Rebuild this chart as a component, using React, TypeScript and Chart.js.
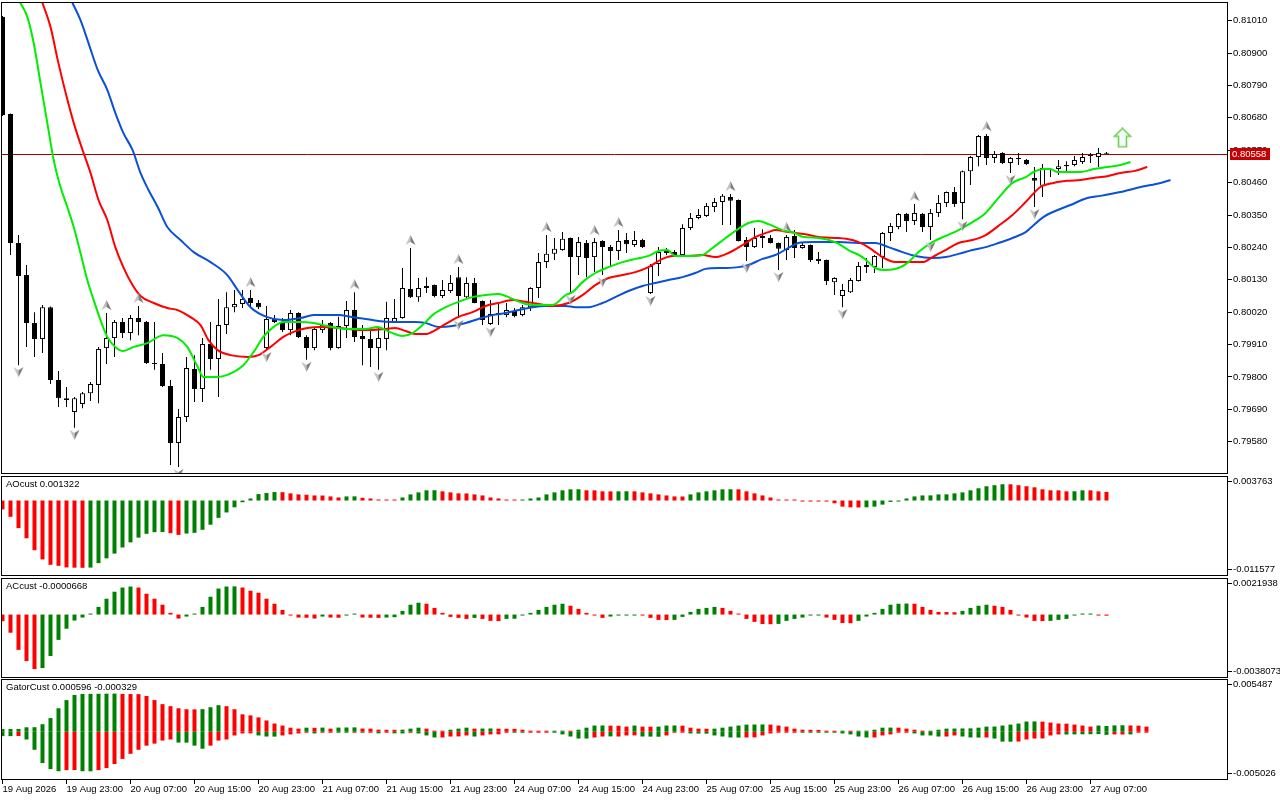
import React, { useEffect, useRef } from 'react';
import { Chart, registerables } from 'chart.js';

Chart.register(...registerables);

const FONT_FAMILY = '"Liberation Sans", Arial, sans-serif';
const GREEN = '#008000';
const RED = '#ff0000';
const Y_AXIS_WIDTH = 52;
const X_MIN = -0.1875;
const X_MAX = 153.19;

// ---------- time axis ----------
const xTickBars = [0, 8, 16, 24, 32, 40, 48, 56, 64, 72, 80, 88, 96, 104, 112, 120, 128, 136];
const xTickLabels = [
  '19 Aug 2026', '19 Aug 23:00', '20 Aug 07:00', '20 Aug 15:00', '20 Aug 23:00', '21 Aug 07:00',
  '21 Aug 15:00', '21 Aug 23:00', '24 Aug 07:00', '24 Aug 15:00', '24 Aug 23:00', '25 Aug 07:00',
  '25 Aug 15:00', '25 Aug 23:00', '26 Aug 07:00', '26 Aug 15:00', '26 Aug 23:00', '27 Aug 07:00',
];

// ---------- price pane ----------
const priceTicks = [0.8101, 0.809, 0.8079, 0.8068, 0.8057, 0.8046, 0.8035, 0.8024, 0.8013, 0.8002, 0.7991, 0.798, 0.7969, 0.7958];
const PRICE_MIN = 0.794703;
const PRICE_MAX = 0.810735;
const lastPrice = 0.80558;
const lastPriceLabel = '0.80558';

const candleOpen = [
  0.81023, 0.80693, 0.80255, 0.80146, 0.79983, 0.79929, 0.80037, 0.7979, 0.79728, 0.79681,
  0.79708, 0.79745, 0.79773, 0.79898, 0.79932, 0.79987, 0.79949, 0.8, 0.79987, 0.79847,
  0.79844, 0.79769, 0.79576, 0.79664, 0.79827, 0.79759, 0.79912, 0.79861, 0.79976, 0.80037,
  0.80048, 0.80068, 0.80051, 0.79898, 0.79997, 0.79987, 0.79959, 0.80017, 0.79936, 0.79898,
  0.79959, 0.79983, 0.79898, 0.79973, 0.80027, 0.79939, 0.79929, 0.79898, 0.79929, 0.79987,
  0.8, 0.80099, 0.80071, 0.80102, 0.80112, 0.80075, 0.80092, 0.80139, 0.80071, 0.80119,
  0.80058, 0.7998, 0.80017, 0.8001, 0.80024, 0.8001, 0.80037, 0.80102, 0.8019, 0.80218,
  0.80231, 0.80272, 0.80207, 0.80255, 0.80207, 0.80262, 0.80241, 0.80228, 0.80265, 0.80248,
  0.80265, 0.80085, 0.80184, 0.80231, 0.80224, 0.80214, 0.80306, 0.8034, 0.80347, 0.80377,
  0.80394, 0.80411, 0.80401, 0.80265, 0.80241, 0.80279, 0.80272, 0.80255, 0.80231, 0.80279,
  0.80238, 0.80248, 0.80201, 0.80197, 0.80122, 0.80075, 0.80088, 0.80126, 0.8018, 0.80173,
  0.80207, 0.80289, 0.80309, 0.80353, 0.8033, 0.80353, 0.80309, 0.80357, 0.80391, 0.80428,
  0.80391, 0.80499, 0.80547, 0.80618, 0.80544, 0.80561, 0.80527, 0.8054, 0.80537, 0.80476,
  0.80449, 0.80506, 0.80506, 0.8052, 0.8052, 0.8053, 0.8055, 0.80547, 0.8056,
];
const candleHigh = [
  0.81026, 0.80695, 0.80282, 0.8018, 0.8002, 0.80044, 0.80039, 0.7982, 0.79766, 0.79732,
  0.79749, 0.79783, 0.79902, 0.80017, 0.79993, 0.8, 0.8001, 0.80041, 0.7999, 0.79987,
  0.79881, 0.7979, 0.79691, 0.79868, 0.79874, 0.79932, 0.79987, 0.80065, 0.80088, 0.80095,
  0.80095, 0.80095, 0.80061, 0.80041, 0.8001, 0.8, 0.80027, 0.8002, 0.79942, 0.79966,
  0.79993, 0.79987, 0.80004, 0.80058, 0.80088, 0.79976, 0.79959, 0.7997, 0.80055, 0.80065,
  0.8017, 0.80238, 0.80136, 0.80139, 0.80114, 0.80129, 0.80146, 0.80173, 0.80139, 0.80136,
  0.8006, 0.80061, 0.80051, 0.80051, 0.80034, 0.80044, 0.80105, 0.80221, 0.80282, 0.80272,
  0.80292, 0.80274, 0.80275, 0.80265, 0.80272, 0.80264, 0.80248, 0.80299, 0.80289, 0.80296,
  0.80269, 0.80184, 0.80241, 0.80238, 0.80231, 0.80319, 0.80357, 0.8037, 0.80391, 0.80408,
  0.80421, 0.80421, 0.80403, 0.80275, 0.80306, 0.80302, 0.80282, 0.80257, 0.80282, 0.80299,
  0.80255, 0.8025, 0.80224, 0.80199, 0.80139, 0.80116, 0.80136, 0.8019, 0.80204, 0.80214,
  0.80292, 0.80323, 0.80357, 0.80357, 0.80387, 0.80357, 0.8037, 0.80418, 0.8043, 0.80445,
  0.80501, 0.8055, 0.80622, 0.80625, 0.80567, 0.80563, 0.80547, 0.80561, 0.8054, 0.80513,
  0.80523, 0.80508, 0.80537, 0.80533, 0.8055, 0.80561, 0.80561, 0.80578, 0.80564,
];
const candleLow = [
  0.80686, 0.80214, 0.7984, 0.79902, 0.79868, 0.79881, 0.79776, 0.79698, 0.79698, 0.79627,
  0.79694, 0.79718, 0.79711, 0.79844, 0.79868, 0.79932, 0.79925, 0.79942, 0.79844, 0.79824,
  0.79766, 0.79501, 0.79494, 0.79647, 0.79715, 0.79715, 0.79824, 0.79732, 0.79946, 0.8002,
  0.80034, 0.80037, 0.80031, 0.79891, 0.79983, 0.79953, 0.79942, 0.79932, 0.79858, 0.79891,
  0.79949, 0.79891, 0.79896, 0.79932, 0.79919, 0.7984, 0.79834, 0.79824, 0.79891, 0.79985,
  0.79998, 0.80068, 0.80055, 0.80085, 0.80071, 0.80068, 0.80085, 0.8, 0.80068, 0.8005,
  0.79976, 0.79976, 0.79976, 0.80003, 0.80003, 0.80006, 0.80024, 0.80068, 0.8017, 0.80197,
  0.80229, 0.80085, 0.80146, 0.80139, 0.80156, 0.80146, 0.80173, 0.80197, 0.80221, 0.80241,
  0.80238, 0.80082, 0.80143, 0.80214, 0.80211, 0.80211, 0.80299, 0.80336, 0.80343, 0.8036,
  0.80316, 0.80316, 0.8026, 0.80194, 0.80238, 0.80238, 0.80253, 0.80163, 0.80197, 0.80204,
  0.80235, 0.8019, 0.80184, 0.80112, 0.80078, 0.80037, 0.80085, 0.80124, 0.80153, 0.80153,
  0.8017, 0.80262, 0.80302, 0.80292, 0.80316, 0.80292, 0.80265, 0.80343, 0.80377, 0.80377,
  0.80336, 0.80452, 0.80516, 0.8052, 0.80527, 0.80523, 0.80493, 0.8052, 0.8052, 0.80377,
  0.80411, 0.80479, 0.80486, 0.80496, 0.80516, 0.80523, 0.80527, 0.80513, 0.80557,
];
const candleClose = [
  0.8069, 0.80255, 0.80143, 0.79983, 0.79929, 0.80037, 0.7979, 0.79728, 0.79722, 0.79728,
  0.79745, 0.79776, 0.79895, 0.79932, 0.79987, 0.79949, 0.8, 0.79987, 0.79847, 0.79844,
  0.79769, 0.79576, 0.79664, 0.7983, 0.79759, 0.79912, 0.79861, 0.79976, 0.80037, 0.80048,
  0.80065, 0.80051, 0.80037, 0.79997, 0.79987, 0.79959, 0.80017, 0.79936, 0.79898, 0.79963,
  0.79976, 0.79898, 0.79973, 0.80027, 0.79936, 0.79929, 0.79898, 0.79932, 0.8, 0.8,
  0.80102, 0.80071, 0.80102, 0.80109, 0.80075, 0.80095, 0.80119, 0.80075, 0.80119, 0.80051,
  0.79993, 0.80014, 0.8001, 0.80027, 0.80007, 0.80037, 0.80102, 0.8019, 0.80218, 0.80235,
  0.80269, 0.80207, 0.80258, 0.80204, 0.80258, 0.80241, 0.80228, 0.80262, 0.80251, 0.80265,
  0.80241, 0.80177, 0.80224, 0.80221, 0.80214, 0.80306, 0.8034, 0.8035, 0.80381, 0.80394,
  0.80415, 0.80398, 0.80262, 0.80241, 0.80272, 0.80272, 0.80255, 0.80235, 0.80275, 0.80238,
  0.80248, 0.80197, 0.80194, 0.80126, 0.80136, 0.80095, 0.80129, 0.80177, 0.80173, 0.80211,
  0.80289, 0.80313, 0.80353, 0.8033, 0.80357, 0.80309, 0.80357, 0.80391, 0.80428, 0.80387,
  0.80499, 0.80547, 0.80618, 0.80544, 0.80557, 0.80527, 0.80544, 0.80541, 0.80523, 0.80466,
  0.8051, 0.80503, 0.80516, 0.80516, 0.80537, 0.80547, 0.80551, 0.80561, 0.80558,
];

// Alligator lines: [bar position, price]
const lipsPts = [
  [1.5, 0.81111], [2.25, 0.8107], [3.1, 0.81023], [3.9, 0.80934], [4.75, 0.80798], [5.6, 0.80663], [6.4, 0.80537],
  [7.25, 0.80445], [8.1, 0.80377], [8.9, 0.80309], [9.75, 0.80221], [10.6, 0.80129], [11.4, 0.80061], [12.25, 0.79993],
  [13.1, 0.79936], [14.1, 0.79902], [15.1, 0.79888], [16.4, 0.79902], [18.1, 0.79915], [20.1, 0.79942], [21.9, 0.79932],
  [23.1, 0.79902], [24.4, 0.79834], [25.1, 0.798], [26.9, 0.798], [28.1, 0.79807], [30.1, 0.7984], [31.4, 0.79885],
  [32.6, 0.79936], [33.9, 0.7997], [35.1, 0.79987], [37.25, 0.79987], [38.9, 0.79983], [40.1, 0.79976], [42.9, 0.79963],
  [45.4, 0.79963], [46.9, 0.7997], [47.9, 0.79959], [48.75, 0.79949], [50, 0.79939], [51.25, 0.79949], [52.5, 0.79976],
  [53.75, 0.8001], [55.4, 0.80037], [57, 0.80055], [58.75, 0.80071], [60.4, 0.80078], [62, 0.80082], [63.75, 0.80065],
  [65.4, 0.80048], [67, 0.80044], [68.75, 0.80044], [70.4, 0.80078], [71.25, 0.80088], [72.5, 0.80122], [74.1, 0.80153],
  [75.75, 0.80173], [77.5, 0.8019], [79.1, 0.80201], [80.75, 0.80211], [82, 0.80228], [83.1, 0.80231], [84.1, 0.80211],
  [85.75, 0.80211], [87.5, 0.80214], [88.75, 0.80238], [90.4, 0.80272], [92, 0.80303], [93.25, 0.80323], [94.5, 0.8033],
  [95.75, 0.80319], [97.5, 0.80299], [99.1, 0.80288], [100, 0.80276], [102, 0.80272], [104.1, 0.80258], [105.75, 0.80231],
  [107.5, 0.80207], [109.1, 0.8017], [110.4, 0.80163], [112, 0.8017], [113.25, 0.8019], [114.5, 0.80224], [116.25, 0.80258],
  [117.9, 0.80279], [119.5, 0.80299], [121.25, 0.80326], [122.9, 0.80357], [124.5, 0.80408], [126.25, 0.80459], [127.9, 0.80479],
  [128.9, 0.80496], [130.1, 0.80506], [131, 0.80506], [131.9, 0.80496], [133.1, 0.80496], [134.75, 0.80496], [136.4, 0.80506],
  [138.1, 0.80513], [139.75, 0.8052], [141, 0.8053],
];
const teethPts = [
  [4.5, 0.8111], [5, 0.8107], [6, 0.80989], [6.9, 0.80877], [7.9, 0.80764], [8.9, 0.80663], [10, 0.80571], [11, 0.80493],
  [12, 0.80401], [13.1, 0.80333], [14.1, 0.80241], [15.1, 0.80173], [16.25, 0.80112], [17.25, 0.80075], [18.9, 0.80051],
  [20.6, 0.80034], [21.9, 0.80027], [23.5, 0.80003], [24.75, 0.79976], [25.75, 0.79925], [26.9, 0.79891], [28.5, 0.79874],
  [30.6, 0.79868], [32, 0.79874], [33.5, 0.79902], [35.1, 0.79936], [36.4, 0.79953], [38.1, 0.79966], [39.75, 0.7997],
  [42, 0.79966], [45.4, 0.79959], [47.9, 0.79963], [49.1, 0.79966], [50.4, 0.79956], [51.6, 0.79946], [52.9, 0.79946],
  [54.1, 0.79959], [55.4, 0.7998], [57, 0.80004], [58.75, 0.8002], [60.4, 0.80041], [62, 0.80051], [63.75, 0.80061],
  [65.4, 0.80055], [67, 0.80048], [68.75, 0.80041], [70.75, 0.80051], [72.5, 0.80078], [74.1, 0.80112], [75.75, 0.80136],
  [77.5, 0.80146], [79.1, 0.80156], [80.75, 0.80173], [82.5, 0.80201], [83.75, 0.80211], [85.75, 0.80211], [87.5, 0.80214],
  [89.1, 0.80207], [90.75, 0.80221], [92.5, 0.80248], [94.1, 0.80275], [95.75, 0.80292], [96.6, 0.80299], [98.25, 0.80292],
  [100.4, 0.80285], [102, 0.80275], [104.5, 0.80272], [106.25, 0.80265], [107.5, 0.80252], [108.75, 0.80231], [110, 0.80207],
  [111.6, 0.8019], [113.25, 0.8019], [115, 0.8019], [116.25, 0.80207], [117.9, 0.80231], [119.5, 0.80255], [121.25, 0.80265],
  [122.9, 0.80282], [124.5, 0.80313], [126.25, 0.8035], [127.9, 0.80394], [129.75, 0.80445], [131.4, 0.80459], [133.1, 0.80466],
  [134.75, 0.80469], [136.4, 0.80476], [138.1, 0.80482], [139.75, 0.80493], [141.4, 0.80499], [143.1, 0.80513],
];
const jawPts = [
  [8, 0.81113], [8.75, 0.8107], [9.75, 0.81012], [10.75, 0.80934], [11.9, 0.80843], [13.1, 0.80775], [14.1, 0.80697],
  [15.1, 0.80629], [16.25, 0.80571], [17.25, 0.80493], [18.25, 0.80435], [19.4, 0.80377], [20.6, 0.80309], [22.25, 0.80265],
  [23.9, 0.80224], [26, 0.8019], [28.1, 0.80146], [29.4, 0.80095], [31, 0.80037], [33.1, 0.80003], [35.1, 0.79993],
  [37.25, 0.8], [38.9, 0.8001], [42, 0.8001], [43.75, 0.80003], [45.4, 0.79997], [47, 0.7999], [48.75, 0.79987],
  [51.6, 0.79987], [52.9, 0.79983], [54.5, 0.7997], [56.25, 0.79973], [57.9, 0.79983], [59.5, 0.79997], [61.25, 0.8001],
  [62.9, 0.80017], [64.5, 0.80027], [66.25, 0.80037], [67.9, 0.80041], [70.4, 0.80041], [71.6, 0.80037], [73.25, 0.80037],
  [75, 0.80051], [76.6, 0.80071], [78.25, 0.80092], [80, 0.80109], [81.6, 0.80119], [83.25, 0.80129], [85, 0.80139],
  [86.6, 0.80153], [87.9, 0.80167], [90, 0.8017], [92, 0.80173], [93.25, 0.8018], [95, 0.80201], [96.6, 0.80214],
  [98.25, 0.80238], [99.5, 0.80255], [101.25, 0.80258], [104.5, 0.80258], [107, 0.80255], [109.1, 0.80255], [110.75, 0.80241],
  [112.5, 0.80224], [114.1, 0.80211], [116.25, 0.80204], [117.9, 0.80207], [119.5, 0.80218], [121.25, 0.80231], [122.9, 0.80241],
  [124.5, 0.80255], [126.25, 0.80272], [127.9, 0.80292], [128.5, 0.80306], [130.1, 0.80343], [131.9, 0.80367], [133.5, 0.80384],
  [135.6, 0.80408], [137.25, 0.80415], [139.75, 0.80428], [142.25, 0.80445], [144.75, 0.80459], [146, 0.80469],
];

const upFractalBars = [13, 17, 31, 44, 51, 57, 68, 74, 77, 91, 98, 114, 123];
const downFractalBars = [2, 9, 22, 33, 38, 47, 57, 61, 71, 75, 81, 93, 97, 105, 116, 120, 126, 129];
const signalBar = 140;
const signalPrice = 0.80612;

// ---------- AO pane ----------
const aoTitle = 'AOcust 0.001322';
const aoScale = [-0.011577, 0.003763];
const aoScaleLabels = ['0.003763', '-0.011577'];
const aoValues = [
  -0.00136, -0.0025, -0.00423, -0.00579, -0.00762, -0.00903, -0.00986, -0.01002, -0.01026, -0.0103,
  -0.01032, -0.01029, -0.0096, -0.00887, -0.00814, -0.0072, -0.00642, -0.00569, -0.00511, -0.00486,
  -0.00484, -0.00501, -0.00527, -0.00506, -0.00496, -0.00449, -0.00371, -0.00266, -0.00183, -0.00104,
  -0.00026, 0.00031, 0.00099, 0.00115, 0.0013, 0.00128, 0.0011, 0.00094, 0.00089, 0.00078,
  0.00077, 0.00063, 0.00047, 0.00063, 0.00064, 0.00042, 0.00031, 0.00016, 0.0001, 0.00008,
  0.00047, 0.00094, 0.00125, 0.00157, 0.00158, 0.00141, 0.00125, 0.0011, 0.00109, 0.00094,
  0.00078, 0.00047, 0.00031, 0.0001, 0.00008, 0.00009, 0.00031, 0.00047, 0.00094, 0.00125,
  0.00157, 0.00172, 0.00173, 0.00157, 0.00156, 0.00141, 0.0014, 0.00141, 0.00142, 0.00141,
  0.00125, 0.0011, 0.00094, 0.00078, 0.00063, 0.00062, 0.00094, 0.00125, 0.00141, 0.00157,
  0.00172, 0.00173, 0.00172, 0.00141, 0.0011, 0.00078, 0.00047, 0.0001, 0.00009, 0.00008,
  -0.00003, -0.00005, -0.00008, -0.0001, -0.00042, -0.00094, -0.00104, -0.00106, -0.00104, -0.00094,
  -0.00063, -0.00021, -0.0001, 0.00031, 0.00063, 0.00078, 0.00079, 0.00094, 0.00095, 0.0011,
  0.00125, 0.00157, 0.00188, 0.00219, 0.00235, 0.0025, 0.00249, 0.00235, 0.00219, 0.00203,
  0.00172, 0.00157, 0.00156, 0.00141, 0.00142, 0.00157, 0.00156, 0.00141, 0.001322,
];
const aoColors = 'RRRRRRRRRRR GGGGGGGGGG RR GGGGGGGGGGGG RRRRRRRR GG RRRRR GGGGG RRRRRRRRRR GGGGGGGG RRRR GG RRRRRRR GGGGGG RRRRRRRRRRRRRRRR GGGGGGGGGGGGGGGGGG RRRRRRRR GG RRR';

// ---------- AC pane ----------
const acTitle = 'ACcust -0.0000668';
const acScale = [-0.0038073, 0.0021938];
const acScaleLabels = ['0.0021938', '-0.0038073'];
const acValues = [
  -0.0004, -0.00109, -0.00212, -0.00279, -0.00327, -0.00321, -0.00249, -0.00152, -0.00085, -0.00036,
  -0.00018, 0.00006, 0.00046, 0.00095, 0.00137, 0.00162, 0.00168, 0.00162, 0.00125, 0.00095,
  0.00059, 0.0001, -0.00024, -0.00012, 0.00004, 0.00046, 0.00107, 0.00156, 0.00168, 0.00169,
  0.00162, 0.00143, 0.00131, 0.00095, 0.00065, 0.00028, -0.00006, -0.00018, -0.00019, -0.00024,
  -0.00012, -0.00018, -0.00019, -0.00006, 0.00004, -0.00018, -0.00019, -0.0002, -0.00018, -0.00016,
  0.00022, 0.00059, 0.00071, 0.00065, 0.0004, 0.0001, -0.00014, -0.0002, -0.00026, -0.0002,
  -0.00026, -0.00038, -0.00039, -0.00026, -0.00025, -0.00006, 0.0001, 0.00028, 0.00046, 0.00059,
  0.00065, 0.00053, 0.00034, 0.0001, -0.00006, -0.0002, -0.00012, -0.00006, -0.00004, -0.00003,
  -0.00006, -0.0002, -0.00032, -0.00033, -0.00032, -0.00014, 0.00016, 0.00034, 0.0004, 0.00046,
  0.0004, 0.00022, 0.00004, -0.00026, -0.00044, -0.00057, -0.00058, -0.00056, -0.00038, -0.00026,
  -0.00018, -0.00006, -0.00005, -0.00018, -0.00032, -0.00051, -0.00052, -0.00038, -0.00012, 0.0001,
  0.00034, 0.00059, 0.00065, 0.00066, 0.00065, 0.00046, 0.00028, 0.00016, 0.00015, 0.00014,
  0.00022, 0.0004, 0.00053, 0.00059, 0.00053, 0.00046, 0.00028, -0.00002, -0.00018, -0.00038,
  -0.00039, -0.00038, -0.00032, -0.00026, -0.00002, 0.00002, 0.00003, -0.00002, -0.0000668,
];
const acColors = 'RRRRR GGGGGGGGGGGG RRRRRR GGGGGGG RRRRRRRRRR G RR GG RRR GGGGG RRRRRR G RRR GGGGGGGG RRRRR GGGG RRRR GGGGGG RRRRRRR GGGGGG RRRR GGGGGGG RRRRRR GGGG RRRRRRR GGGGGG RR';

// ---------- Gator pane ----------
const gatorTitle = 'GatorCust 0.000596 -0.000329';
const gatorScale = [-0.005026, 0.005487];
const gatorScaleLabels = ['0.005487', '-0.005026'];
const gatorUpper = [
  0.00028, 0.00028, 0.00029, 0.00046, 0.00047, 0.00078, 0.00142, 0.00244, 0.00329, 0.00382,
  0.00393, 0.00394, 0.00395, 0.00396, 0.00397, 0.00393, 0.00392, 0.00391, 0.00372, 0.00329,
  0.00287, 0.00266, 0.00244, 0.00234, 0.00233, 0.00235, 0.00255, 0.00276, 0.00266, 0.00234,
  0.00181, 0.0017, 0.00149, 0.00117, 0.00085, 0.00064, 0.00042, 0.00032, 0.00042, 0.00041,
  0.00043, 0.00032, 0.00043, 0.00044, 0.00045, 0.00033, 0.00032, 0.00021, 0.0002, 0.0002,
  0.00021, 0.00032, 0.00042, 0.00032, 0.00011, 0.00004, 0.00021, 0.00032, 0.00042, 0.00032,
  0.00033, 0.00034, 0.00032, 0.00031, 0.0003, 0.00021, 0.00011, 0.00004, 0.00003, 0.00003,
  0.00011, 0.00006, 0.00021, 0.00042, 0.00064, 0.00065, 0.00063, 0.00062, 0.00053, 0.00064,
  0.00053, 0.00052, 0.00053, 0.00064, 0.00065, 0.00063, 0.00042, 0.00032, 0.00031, 0.00032,
  0.00042, 0.00053, 0.00064, 0.00074, 0.00075, 0.00076, 0.00074, 0.00064, 0.00053, 0.00032,
  0.00021, 0.0002, 0.00019, 0.00011, 0.0001, 0.00011, 0.0001, 0.00003, 0.00011, 0.00021,
  0.00042, 0.00043, 0.00042, 0.00032, 0.00021, 0.00011, 0.00003, 0.00021, 0.00032, 0.00033,
  0.00034, 0.00035, 0.00042, 0.00053, 0.00054, 0.00064, 0.00074, 0.00085, 0.00106, 0.00107,
  0.00105, 0.00095, 0.00085, 0.00084, 0.00074, 0.00064, 0.00053, 0.00064, 0.000596, 0.00066,
  0.00067, 0.00065, 0.00063, 0.00053,
];
const gatorLower = [
  -0.00046, -0.00046, -0.00045, -0.00081, -0.00188, -0.00326, -0.00389, -0.00411, -0.004, -0.00399,
  -0.00411, -0.00412, -0.004, -0.00379, -0.00336, -0.00283, -0.0023, -0.00188, -0.00145, -0.00124,
  -0.00092, -0.00081, -0.00113, -0.00114, -0.00145, -0.00177, -0.00145, -0.00092, -0.00081, -0.00039,
  -0.00018, -0.00017, -0.00039, -0.0005, -0.00051, -0.00039, -0.00028, -0.00018, -0.00007, -0.00018,
  -0.00007, -0.00008, -0.00007, -0.0001, -0.00007, -0.0001, -0.00007, -0.00017, -0.00007, -0.00017,
  -0.00018, -0.00007, -0.00018, -0.00039, -0.0006, -0.0006, -0.0005, -0.00049, -0.00039, -0.0005,
  -0.00039, -0.00028, -0.00027, -0.00007, -0.00007, -0.00007, -0.00007, -0.00003, -0.00003, -0.00003,
  -0.00028, -0.0005, -0.00071, -0.00071, -0.0006, -0.0005, -0.00049, -0.0005, -0.00039, -0.00038,
  -0.0005, -0.00051, -0.00052, -0.00039, -0.00007, -0.00007, -0.00018, -0.00019, -0.0002, -0.00039,
  -0.0005, -0.0006, -0.00061, -0.0006, -0.00059, -0.00039, -0.00018, -0.00007, -0.00007, -0.00007,
  -0.00007, -0.00007, -0.00007, -0.00007, -0.00007, -0.00018, -0.00028, -0.0005, -0.0006, -0.0006,
  -0.00039, -0.00028, -0.0001, -0.00007, -0.00018, -0.00039, -0.00039, -0.0005, -0.0005, -0.00039,
  -0.0005, -0.0006, -0.00061, -0.0006, -0.00071, -0.00103, -0.00104, -0.00102, -0.00081, -0.00071,
  -0.0007, -0.00039, -0.00028, -0.00029, -0.00028, -0.00027, -0.00026, -0.00025, -0.000329, -0.00028,
  -0.00029, -0.00028, -0.00002, -0.00002,
];
const gatorUpperColors = 'GGGGGGGGGGGGGGG RRRRRRRRRR GGG RRRRRRRRRR G R G R GGG RRRRR GGG RRR GGG R GG RRRRRRR GG R GGGG RRR G RR GGG RRRR GGGGGGG RRRRRRRRR G R GGGGG RRRR GGGGGGGGGGGGGG RRRRRRR GGGG RRR';
const gatorLowerColors = 'GG R GGGGG RR GG RRRRRRRRRR GGGG RRRRRR GGG RRRR G RR GG R G R G R GG R GGG RRRR G RRRR GG RRR GGGGG RR G RRR GGG RRR GGGGGGG RRRRRRR GGGGGGGGG RRRRR GGGG RR GGG R GGG RRRRRR GGGGGG RR G RR';

// ---------- helpers ----------
const tickFont = { family: FONT_FAMILY, size: 9.5 };
const colorList = (s: string) => s.replace(/\s/g, '').split('').map((c) => (c === 'G' ? GREEN : RED));

function fractalIcon(up: boolean): HTMLCanvasElement {
  const c = document.createElement('canvas');
  c.width = 11;
  c.height = 34;
  const g = c.getContext('2d') as CanvasRenderingContext2D;
  const s = up ? 1 : -1;
  const cy = up ? 17 - 8 : 17 + 7;
  g.beginPath();
  g.moveTo(5.5, cy - 5 * s);
  g.lineTo(0.5, cy + 5 * s);
  g.lineTo(5.5, cy + 2 * s);
  g.closePath();
  g.fillStyle = '#c4c4c4';
  g.fill();
  g.beginPath();
  g.moveTo(5.5, cy - 5 * s);
  g.lineTo(10.5, cy + 5 * s);
  g.lineTo(5.5, cy + 2 * s);
  g.closePath();
  g.fillStyle = '#7c7c7c';
  g.fill();
  return c;
}

function signalIcon(): HTMLCanvasElement {
  const c = document.createElement('canvas');
  c.width = 19;
  c.height = 21;
  const g = c.getContext('2d') as CanvasRenderingContext2D;
  g.beginPath();
  g.moveTo(9.5, 1);
  g.lineTo(17.5, 9);
  g.lineTo(13.5, 9);
  g.lineTo(13.5, 19.5);
  g.lineTo(5.5, 19.5);
  g.lineTo(5.5, 9);
  g.lineTo(1.5, 9);
  g.closePath();
  g.fillStyle = '#f3fbff';
  g.fill();
  g.strokeStyle = '#72d24a';
  g.lineWidth = 1.6;
  g.stroke();
  return c;
}

const framePlugin = {
  id: 'paneFrame',
  afterDraw(chart: any) {
    const { ctx, chartArea: a } = chart;
    ctx.save();
    ctx.strokeStyle = '#000';
    ctx.lineWidth = 1;
    ctx.strokeRect(a.left + 0.5, a.top + 0.5, a.right - a.left - 1, a.bottom - a.top - 1);
    ctx.restore();
  },
};

const titlePlugin = {
  id: 'paneTitle',
  afterDraw(chart: any, _args: any, opts: any) {
    if (!opts || !opts.text) return;
    const { ctx, chartArea: a } = chart;
    ctx.save();
    ctx.font = `9.5px ${FONT_FAMILY}`;
    ctx.fillStyle = '#000';
    ctx.textBaseline = 'middle';
    ctx.fillText(opts.text, a.left + 5, a.top + 8.5);
    ctx.restore();
  },
};

// current-price line (under the candles) and its tag on the price axis
const priceTagPlugin = {
  id: 'priceTag',
  beforeDatasetsDraw(chart: any, _args: any, opts: any) {
    if (!opts || opts.value === undefined) return;
    const { ctx, chartArea: a } = chart;
    const y = Math.round(chart.scales.y.getPixelForValue(opts.value)) + 0.5;
    ctx.save();
    ctx.strokeStyle = '#a00000';
    ctx.lineWidth = 1;
    ctx.beginPath();
    ctx.moveTo(a.left, y);
    ctx.lineTo(a.right, y);
    ctx.stroke();
    ctx.restore();
  },
  afterDraw(chart: any, _args: any, opts: any) {
    if (!opts || opts.value === undefined) return;
    const { ctx, chartArea: a } = chart;
    const y = Math.round(chart.scales.y.getPixelForValue(opts.value));
    ctx.save();
    ctx.fillStyle = '#c40000';
    ctx.fillRect(a.right + 2, y - 6, 40, 12);
    ctx.fillStyle = '#fff';
    ctx.font = `9.5px ${FONT_FAMILY}`;
    ctx.textBaseline = 'middle';
    ctx.fillText(opts.label, a.right + 4, y + 0.5);
    ctx.restore();
  },
};

const clearPadding = (s: any) => {
  s.paddingTop = 0;
  s.paddingBottom = 0;
  s.paddingLeft = 0;
  s.paddingRight = 0;
};

function rightAxis(min: number, max: number, buildTicks: () => { value: number }[], label: (v: number, i: number) => string) {
  return {
    type: 'linear',
    position: 'right',
    min,
    max,
    afterFit: (s: any) => {
      s.width = Y_AXIS_WIDTH;
      clearPadding(s);
    },
    afterBuildTicks: (s: any) => {
      s.ticks = buildTicks();
    },
    ticks: {
      callback: (v: any, i: number) => label(Number(v), i),
      font: tickFont,
      color: '#000',
      padding: 1,
      autoSkip: false,
    },
    grid: { drawOnChartArea: false, drawTicks: true, tickLength: 4, color: '#000', lineWidth: 1, offset: false },
    border: { display: false },
  };
}

function edgeTicks(min: number, max: number) {
  return () => [{ value: max - (max - min) * 0.055 }, { value: min + (max - min) * 0.065 }];
}

const hiddenX = { type: 'linear', min: X_MIN, max: X_MAX, display: false, offset: false, grid: { offset: false } };

function baseOptions(top: number, bottom: number, scales: any, plugins: any) {
  return {
    responsive: false,
    animation: false,
    events: [],
    layout: { padding: { left: 1, right: 0, top, bottom }, autoPadding: false },
    scales,
    plugins: { legend: { display: false }, tooltip: { enabled: false }, title: { display: false }, ...plugins },
  };
}

function histDataset(values: number[], colors: string, order = 0) {
  return {
    type: 'bar',
    data: values.map((v, i) => ({ x: i, y: v })),
    backgroundColor: colorList(colors),
    barThickness: 4,
    grouped: false,
    minBarLength: 1,
    borderWidth: 0,
    inflateAmount: 0,
    order,
  };
}

export default function App() {
  const mainRef = useRef<HTMLCanvasElement>(null);
  const aoRef = useRef<HTMLCanvasElement>(null);
  const acRef = useRef<HTMLCanvasElement>(null);
  const gatorRef = useRef<HTMLCanvasElement>(null);

  useEffect(() => {
    document.body.style.margin = '0';
    Chart.defaults.font.family = FONT_FAMILY;
    const charts: Chart[] = [];

    // ---- main price chart ----
    const upIcon = fractalIcon(true);
    const downIcon = fractalIcon(false);
    const mainChart = new Chart(mainRef.current as HTMLCanvasElement, {
      type: 'bar',
      data: {
        datasets: [
          {
            type: 'bar',
            data: candleLow.map((l, i) => ({ x: i, y: [l, candleHigh[i]] })),
            backgroundColor: '#000',
            borderWidth: 0,
            barThickness: 1,
            grouped: false,
            inflateAmount: 0,
            order: 7,
          },
          {
            type: 'bar',
            data: candleOpen.map((o, i) => ({ x: i, y: [o, candleClose[i]] })),
            backgroundColor: candleOpen.map((o, i) => (candleClose[i] > o ? '#ffffff' : '#000000')),
            borderColor: '#000',
            borderWidth: 1,
            borderSkipped: false,
            barThickness: 5,
            grouped: false,
            minBarLength: 1,
            inflateAmount: 0,
            order: 6,
          },
          {
            type: 'line',
            data: jawPts.map(([x, y]) => ({ x, y })),
            borderColor: '#0a50d8',
            borderWidth: 2,
            pointRadius: 0,
            cubicInterpolationMode: 'monotone',
            order: 3,
          },
          {
            type: 'line',
            data: teethPts.map(([x, y]) => ({ x, y })),
            borderColor: '#ff0000',
            borderWidth: 2,
            pointRadius: 0,
            cubicInterpolationMode: 'monotone',
            order: 2,
          },
          {
            type: 'line',
            data: lipsPts.map(([x, y]) => ({ x, y })),
            borderColor: '#00ee00',
            borderWidth: 2,
            pointRadius: 0,
            cubicInterpolationMode: 'monotone',
            order: 1,
          },
          {
            type: 'scatter',
            data: upFractalBars.map((i) => ({ x: i, y: candleHigh[i] })),
            pointStyle: upIcon,
            pointRadius: 4,
            showLine: false,
            order: 0,
          },
          {
            type: 'scatter',
            data: downFractalBars.map((i) => ({ x: i, y: candleLow[i] })),
            pointStyle: downIcon,
            pointRadius: 4,
            showLine: false,
            order: 0,
          },
          {
            type: 'scatter',
            data: [{ x: signalBar, y: signalPrice }],
            pointStyle: signalIcon(),
            pointRadius: 4,
            showLine: false,
            order: 0,
          },
        ],
      },
      options: baseOptions(
        2,
        800 - 474,
        {
          x: hiddenX,
          y: rightAxis(PRICE_MIN, PRICE_MAX, () => priceTicks.map((v) => ({ value: v })), (v) => v.toFixed(5)),
        },
        { priceTag: { value: lastPrice, label: lastPriceLabel } },
      ),
      plugins: [framePlugin, priceTagPlugin],
    } as any);
    charts.push(mainChart);

    // ---- AO ----
    charts.push(
      new Chart(aoRef.current as HTMLCanvasElement, {
        type: 'bar',
        data: { datasets: [histDataset(aoValues, aoColors)] },
        options: baseOptions(
          476,
          800 - 576,
          {
            x: hiddenX,
            y: rightAxis(aoScale[0], aoScale[1], edgeTicks(aoScale[0], aoScale[1]), (_v, i) => aoScaleLabels[i]),
          },
          { paneTitle: { text: aoTitle } },
        ),
        plugins: [framePlugin, titlePlugin],
      } as any),
    );

    // ---- AC ----
    charts.push(
      new Chart(acRef.current as HTMLCanvasElement, {
        type: 'bar',
        data: { datasets: [histDataset(acValues, acColors)] },
        options: baseOptions(
          578,
          800 - 678,
          {
            x: hiddenX,
            y: rightAxis(acScale[0], acScale[1], edgeTicks(acScale[0], acScale[1]), (_v, i) => acScaleLabels[i]),
          },
          { paneTitle: { text: acTitle } },
        ),
        plugins: [framePlugin, titlePlugin],
      } as any),
    );

    // ---- Gator ----
    charts.push(
      new Chart(gatorRef.current as HTMLCanvasElement, {
        type: 'bar',
        data: {
          datasets: [histDataset(gatorUpper, gatorUpperColors), histDataset(gatorLower, gatorLowerColors)],
        },
        options: baseOptions(
          679,
          0,
          {
            x: {
              type: 'linear',
              position: 'bottom',
              min: X_MIN,
              max: X_MAX,
              offset: false,
              afterFit: (s: any) => {
                s.height = 20;
                clearPadding(s);
              },
              afterBuildTicks: (s: any) => {
                s.ticks = xTickBars.map((v) => ({ value: v }));
              },
              ticks: {
                callback: (_v: any, i: number) => xTickLabels[i],
                align: 'start',
                maxRotation: 0,
                minRotation: 0,
                autoSkip: false,
                font: tickFont,
                color: '#000',
                padding: 0,
              },
              grid: { drawOnChartArea: false, drawTicks: true, tickLength: 4, color: '#000', offset: false },
              border: { display: false },
            },
            y: rightAxis(gatorScale[0], gatorScale[1], edgeTicks(gatorScale[0], gatorScale[1]), (_v, i) => gatorScaleLabels[i]),
          },
          { paneTitle: { text: gatorTitle } },
        ),
        plugins: [framePlugin, titlePlugin],
      } as any),
    );

    return () => {
      charts.forEach((c) => c.destroy());
    };
  }, []);

  const cs: React.CSSProperties = { position: 'absolute', left: 0, top: 0, width: 1280, height: 800 };
  return (
    <div style={{ position: 'relative', width: 1280, height: 800, background: '#ffffff', overflow: 'hidden' }}>
      <canvas ref={mainRef} width={1280} height={800} style={cs} />
      <canvas ref={aoRef} width={1280} height={800} style={cs} />
      <canvas ref={acRef} width={1280} height={800} style={cs} />
      <canvas ref={gatorRef} width={1280} height={800} style={cs} />
    </div>
  );
}
